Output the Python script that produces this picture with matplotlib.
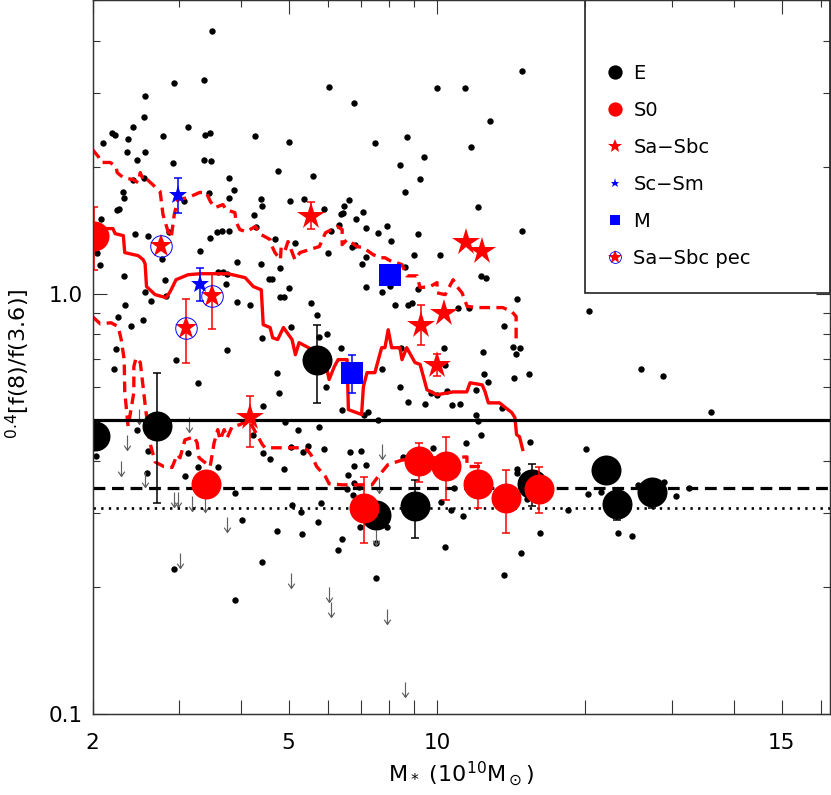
import numpy as np
import matplotlib
matplotlib.use("Agg")
import matplotlib.pyplot as plt
from matplotlib.lines import Line2D
from matplotlib.patches import Rectangle
from matplotlib.path import Path
from matplotlib.ticker import FixedLocator, FixedFormatter, NullFormatter

plt.rcParams['font.family'] = ['DejaVu Sans']
plt.rcParams['mathtext.fontset'] = 'dejavusans'

nan = np.nan

# ---------------- background sample (small black dots) ----------------
dot_mass = [
    3.50, 2.92, 3.37, 6.03, 2.56, 2.54, 3.13, 2.42, 2.19, 2.22,
    2.36, 2.78, 3.39, 3.47, 4.28, 2.10, 5.00, 2.35, 2.56, 2.46,
    3.37, 3.48, 2.91, 4.76, 5.60, 3.78, 2.42, 2.54, 3.87, 2.31,
    2.32, 3.44, 3.78, 3.07, 4.39, 4.41, 5.04, 5.38, 5.91, 2.26,
    2.24, 4.25, 6.38, 2.08, 2.44, 2.59, 2.86, 3.46, 3.57, 3.66,
    3.78, 4.30, 4.69, 5.15, 6.08, 6.32, 2.77, 3.30, 3.93, 4.39,
    4.80, 6.01, 2.04, 2.07, 2.32, 2.81, 3.60, 3.68, 3.75, 3.74,
    4.56, 4.63, 5.00, 2.56, 2.63, 2.82, 2.33, 3.93, 4.17, 4.80,
    4.90, 5.56, 5.72, 2.25, 2.53, 2.39, 5.05, 5.99, 5.77, 4.42,
    6.78, 10.0, 11.4, 14.9, 12.8, 7.49, 8.70, 11.7, 9.42, 8.42,
    9.24, 8.61, 6.62, 6.48, 6.44, 7.08, 6.86, 12.1, 7.18, 7.93,
    7.58, 9.16, 14.9, 8.08, 6.72, 6.82, 7.17, 8.98, 10.13, 7.05,
    8.62, 7.16, 7.74, 8.04, 9.15, 12.3, 12.6, 14.5, 8.21, 8.72,
    8.91, 11.04, 11.6, 13.7, 20.3,
    2.23, 2.21, 3.75, 2.96, 3.28, 4.73, 4.78, 4.43, 5.94, 6.42,
    4.91, 5.22, 5.76, 5.89, 5.47, 5.34, 5.06, 4.59, 4.43, 4.23,
    4.90, 2.46, 2.59, 2.03, 3.13, 3.28, 3.60, 2.58, 3.08, 3.90,
    5.07, 5.81, 5.29, 4.02, 5.73, 4.74, 5.32, 6.42, 6.30, 4.42,
    2.93, 3.89,
    6.38, 7.72, 8.45, 10.34, 10.4, 12.4, 12.46, 12.7, 14.26, 14.76,
    14.47, 14.3, 15.4, 8.42, 8.74, 9.44, 9.71, 10.0, 10.5, 10.72,
    11.15, 11.98, 13.57, 7.25, 7.11, 7.58, 12.0, 12.1, 12.3, 11.44,
    15.44, 20.05, 6.66, 7.00, 6.78, 7.17, 8.52, 9.83, 6.59, 6.77,
    6.57, 6.95, 6.74, 10.85, 10.21, 10.65, 11.29, 14.55, 14.55, 15.2,
    18.45, 20.2, 7.91, 6.98, 7.52, 10.37, 16.18, 14.8, 13.67, 7.52,
    25.9, 28.8, 36.0, 21.5, 30.6, 32.5, 23.3, 24.9, 25.6, 28.85,
]
dot_ratio = [
    4.21, 3.17, 3.23, 3.10, 2.96, 2.64, 2.50, 2.50, 2.41, 2.38,
    2.34, 2.37, 2.39, 2.41, 2.37, 2.29, 2.30, 2.17, 2.18, 2.08,
    2.08, 2.07, 2.05, 1.96, 1.91, 1.89, 1.87, 1.89, 1.77, 1.75,
    1.69, 1.74, 1.69, 1.66, 1.68, 1.62, 1.66, 1.68, 1.59, 1.59,
    1.58, 1.54, 1.55, 1.51, 1.39, 1.375, 1.40, 1.36, 1.40, 1.41,
    1.41, 1.44, 1.35, 1.32, 1.41, 1.455, 1.21, 1.265, 1.19, 1.18,
    1.15, 1.25, 1.25, 1.17, 1.10, 1.076, 1.125, 1.125, 1.116, 1.057,
    1.084, 1.084, 1.03, 1.007, 0.961, 0.988, 0.942, 0.956, 0.942, 0.984,
    0.982, 0.948, 0.89, 0.88, 0.866, 0.839, 0.833, 0.80, 0.787, 0.785,
    2.85, 3.08, 3.08, 3.39, 2.58, 2.29, 2.36, 2.24, 2.12, 2.02,
    1.88, 1.75, 1.67, 1.62, 1.554, 1.566, 1.51, 1.61, 1.437, 1.45,
    1.397, 1.385, 1.407, 1.336, 1.292, 1.303, 1.226, 1.237, 1.239, 1.177,
    1.156, 1.036, 1.011, 1.042, 1.025, 1.10, 1.088, 0.97, 0.940, 0.940,
    0.948, 0.927, 0.927, 0.838, 0.908,
    0.739, 0.662, 0.733, 0.694, 0.613, 0.649, 0.582, 0.542, 0.600, 0.530,
    0.495, 0.473, 0.482, 0.426, 0.435, 0.421, 0.431, 0.404, 0.418, 0.460,
    0.383, 0.475, 0.423, 0.410, 0.417, 0.387, 0.388, 0.375, 0.369, 0.336,
    0.314, 0.318, 0.302, 0.290, 0.286, 0.272, 0.268, 0.261, 0.245, 0.230,
    0.221, 0.187,
    0.743, 0.662, 0.743, 0.743, 0.676, 0.725, 0.644, 0.615, 0.745, 0.741,
    0.717, 0.629, 0.643, 0.600, 0.552, 0.547, 0.581, 0.575, 0.587, 0.545,
    0.547, 0.591, 0.535, 0.522, 0.516, 0.502, 0.515, 0.498, 0.461, 0.441,
    0.443, 0.428, 0.420, 0.422, 0.389, 0.392, 0.409, 0.430, 0.370, 0.354,
    0.344, 0.347, 0.332, 0.345, 0.319, 0.306, 0.296, 0.383, 0.374, 0.325,
    0.306, 0.334, 0.279, 0.279, 0.255, 0.249, 0.269, 0.241, 0.2145, 0.211,
    0.662, 0.636, 0.523, 0.338, 0.330, 0.345, 0.269, 0.265, 0.351, 0.356,
]

# ---------------- upper limits (grey arrows) ----------------
lim_mass = [2.48, 2.35, 3.14, 2.28, 2.55, 2.93, 2.98, 3.19, 3.39, 3.75,
            3.01, 5.06, 6.03, 6.08, 7.75, 7.62, 7.51, 7.91, 8.6]
lim_ratio = [0.532, 0.462, 0.509, 0.401, 0.377, 0.337, 0.337, 0.330, 0.328, 0.295,
             0.241, 0.216, 0.200, 0.185, 0.439, 0.365, 0.274, 0.178, 0.119]

# ---------------- morphological classes ----------------
E_mass = [2.02, 2.70, 5.72, 7.51, 9.03, 15.57, 22.07, 23.2, 27.3]
E_ratio = [0.458, 0.484, 0.697, 0.297, 0.312, 0.353, 0.380, 0.316, 0.337]
E_lo = [nan, 0.318, 0.551, nan, 0.262, 0.313, nan, 0.290, 0.309]
E_hi = [nan, 0.648, 0.844, nan, 0.361, 0.394, nan, 0.340, 0.360]

S0_mass = [2.01, 3.40, 7.12, 9.19, 10.45, 12.1, 13.8, 16.08]
S0_ratio = [1.37, 0.352, 0.310, 0.399, 0.390, 0.353, 0.326, 0.344]
S0_lo = [1.14, nan, 0.255, 0.356, 0.323, 0.310, 0.270, 0.301]
S0_hi = [1.61, nan, 0.366, 0.441, 0.456, 0.395, 0.380, 0.387]

Sa_mass = [5.56, 11.46, 12.33, 9.27, 10.33, 9.98, 4.17]
Sa_ratio = [1.534, 1.326, 1.267, 0.844, 0.900, 0.678, 0.508]
Sa_lo = [1.426, nan, nan, 0.756, nan, 0.636, 0.432]
Sa_hi = [1.654, nan, nan, 0.938, nan, 0.718, 0.571]

Sc_mass = [2.98, 3.31]
Sc_ratio = [1.72, 1.057]
Sc_lo = [1.56, 0.959]
Sc_hi = [1.89, 1.153]

M_mass = [8.04, 6.72]
M_ratio = [1.11, 0.646]
M_lo = [nan, 0.581]
M_hi = [nan, 0.713]

pec_mass = [2.75, 3.49, 3.10]
pec_ratio = [1.297, 0.986, 0.829]
pec_lo = [nan, 0.824, 0.686]
pec_hi = [nan, 1.116, 0.973]

# ---------------- running median and 16/84 percentiles ----------------
med_mass = [2.0, 2.20, 2.223, 2.31, 2.325, 2.476, 2.534, 2.557, 2.574, 2.68,
            2.82, 2.874, 2.955, 3.126, 3.312, 3.766, 4.081, 4.24, 4.40, 4.44,
            4.585, 4.64, 4.75, 4.88, 5.08, 5.16, 5.25, 5.58, 5.77, 5.94,
            6.04, 6.19, 6.30, 6.57, 6.61, 7.03, 7.09, 7.21, 7.48, 7.72,
            7.84, 7.96, 8.09, 8.41, 8.49, 8.68, 9.02, 9.24, 9.54, 10.0,
            10.78, 11.49, 11.67, 12.35, 12.52, 12.71, 13.39, 14.19, 14.39, 14.5,
            14.7, 14.92]
med_ratio = [1.429, 1.429, 1.39, 1.375, 1.253, 1.232, 1.205, 1.179, 1.04, 0.995,
             0.979, 1.011, 1.08, 1.11, 1.116, 1.116, 1.092, 1.04, 1.022, 0.844,
             0.831, 0.786, 0.778, 0.831, 0.778, 0.716, 0.765, 0.736, 0.724, 0.686,
             0.625, 0.671, 0.697, 0.697, 0.53, 0.516, 0.601, 0.649, 0.649, 0.744,
             0.744, 0.821, 0.744, 0.744, 0.697, 0.744, 0.686, 0.679, 0.591, 0.575,
             0.584, 0.584, 0.614, 0.607, 0.584, 0.55, 0.55, 0.521, 0.507, 0.462,
             0.457, 0.426]

p84_mass = [2.0, 2.054, 2.083, 2.172, 2.233, 2.244, 2.31, 2.417, 2.476, 2.50,
            2.534, 2.557, 2.65, 2.743, 2.78, 2.847, 2.889, 2.93, 2.98, 3.126,
            3.30, 3.40, 3.47, 3.545, 3.68, 3.73, 3.89, 3.91, 3.98, 4.10,
            4.28, 4.40, 4.585, 4.61, 4.69, 4.81, 4.83, 4.92, 4.985, 5.15,
            5.27, 5.77, 5.94, 6.28, 6.42, 6.42, 6.57, 6.88, 7.08, 7.42,
            7.66, 7.84, 8.10, 8.29, 8.49, 8.69, 9.11, 9.24, 9.68, 10.0,
            10.0, 10.39, 10.78, 10.98, 11.24, 11.51, 12.05, 13.6, 14.19, 14.47,
            14.47]
p84_ratio = [2.203, 2.122, 2.053, 2.053, 2.007, 1.942, 1.889, 1.869, 1.838, 1.942,
             1.869, 1.889, 1.818, 1.75, 1.543, 1.405, 1.36, 1.543, 1.675, 1.693,
             1.742, 1.742, 1.657, 1.603, 1.63, 1.585, 1.56, 1.484, 1.421, 1.405,
             1.445, 1.382, 1.346, 1.309, 1.253, 1.205, 1.294, 1.27, 1.331, 1.205,
             1.253, 1.295, 1.397, 1.444, 1.421, 1.309, 1.346, 1.295, 1.288, 1.239,
             1.218, 1.218, 1.192, 1.185, 1.173, 1.103, 1.103, 1.034, 1.04, 1.063,
             1.005, 0.995, 1.08, 1.04, 1.005, 0.933, 0.927, 0.927, 0.906, 0.883,
             0.778]

p16_mass = [2.0, 2.074, 2.181, 2.255, 2.287, 2.319, 2.325, 2.362, 2.426, 2.426,
            2.452, 2.50, 2.54, 2.56, 2.615, 2.68, 2.79, 2.90, 2.97, 3.01,
            3.08, 3.214, 3.26, 3.29, 3.465, 3.53, 3.59, 3.63, 3.70, 3.75,
            3.84, 3.98, 4.15, 4.42, 4.48, 5.27, 5.44, 5.55, 5.70, 5.94,
            6.04, 6.42, 7.38, 7.59, 7.95, 8.49, 9.24, 10.44, 11.5, 11.5,
            12.22]
p16_ratio = [0.882, 0.848, 0.853, 0.835, 0.778, 0.697, 0.585, 0.483, 0.582, 0.671,
             0.704, 0.686, 0.585, 0.539, 0.442, 0.398, 0.388, 0.386, 0.414, 0.407,
             0.449, 0.457, 0.442, 0.407, 0.388, 0.442, 0.475, 0.449, 0.475, 0.454,
             0.483, 0.488, 0.501, 0.438, 0.43, 0.43, 0.426, 0.414, 0.388, 0.367,
             0.353, 0.351, 0.351, 0.367, 0.392, 0.402, 0.407, 0.407, 0.409, 0.388,
             0.388]

# reference levels
ref_solid = 0.50
ref_dashed = 0.345
ref_dotted = 0.31

# axis ticks
x_major = [2, 5, 10, 50]
x_major_labels = ['2', '5', '10', '15']
x_minor = [3, 4, 6, 7, 8, 9, 20, 30, 40, 60]
y_major = [0.1, 1.0]
y_major_labels = ['0.1', '1.0']
y_minor = [0.2, 0.3, 0.4, 0.5, 0.6, 0.7, 0.8, 0.9, 2, 3, 4, 5]

legend_labels = ['E', 'S0', 'Sa\u2212Sbc', 'Sc\u2212Sm', 'M', 'Sa\u2212Sbc pec']

RED = '#ff0000'
BLUE = '#0000ff'
GREY = '#606060'
AXC = '#333333'

# ---------------- figure ----------------
fig = plt.figure(figsize=(8.31, 7.95), dpi=100)
ax = fig.add_axes([92.5 / 831, 81 / 795, 737.5 / 831, 714 / 795])
ax.set_xscale('log')
ax.set_yscale('log')
xlim = (2.0, 62.7)
ax.set_xlim(*xlim)
ax.set_ylim(0.1, 5.0)

axt = ax.twiny()
axt.set_xscale('log')
axt.set_xlim(*xlim)

# background dots
ax.plot(dot_mass, dot_ratio, ls='none', marker='o', ms=4.6, mfc='k', mec='k',
        mew=0, zorder=2)

# upper-limit arrows (marker anchored at the limit value)
arrow_path = Path([(0, 0), (0, -1), (-0.22, -0.68), (0, -1), (0.22, -0.68)],
                  [Path.MOVETO, Path.LINETO, Path.MOVETO, Path.LINETO, Path.LINETO])
ax.plot(lim_mass, lim_ratio, ls='none', marker=arrow_path, ms=21.5, mfc='none',
        mec=GREY, mew=0.85, zorder=2)

# running statistics
ax.plot(p84_mass, p84_ratio, color=RED, lw=2.4, dashes=(3.2, 1.9), zorder=3)
ax.plot(p16_mass, p16_ratio, color=RED, lw=2.4, dashes=(3.2, 1.9), zorder=3)
ax.plot(med_mass, med_ratio, color=RED, lw=2.4, zorder=3)

# reference levels
ax.axhline(ref_solid, color='k', lw=2.3, zorder=3)
ax.axhline(ref_dashed, color='k', lw=2.3, dashes=(3.7, 2.1), zorder=3)
ax.axhline(ref_dotted, color='k', lw=1.9, dashes=(0.9, 2.0), zorder=3)


def draw_group(mass, ratio, lo, hi, marker, ms, fc, ec, ecol, z, mew=0.0):
    m = np.asarray(mass, float)
    r = np.asarray(ratio, float)
    lo = np.asarray(lo, float)
    hi = np.asarray(hi, float)
    ok = ~np.isnan(lo)
    if ok.any():
        ax.errorbar(m[ok], r[ok], yerr=[r[ok] - lo[ok], hi[ok] - r[ok]], fmt='none',
                    ecolor=ecol, elinewidth=1.1, capsize=3.0, capthick=1.1, zorder=z)
    ax.plot(m, r, ls='none', marker=marker, ms=ms, mfc=fc, mec=ec, mew=mew,
            zorder=z + 0.1)


draw_group(E_mass, E_ratio, E_lo, E_hi, 'o', 21.6, 'k', 'k', 'k', 5)
draw_group(S0_mass, S0_ratio, S0_lo, S0_hi, 'o', 21.6, RED, RED, RED, 6)
draw_group(Sa_mass, Sa_ratio, Sa_lo, Sa_hi, '*', 20.5, RED, RED, RED, 7)
draw_group(Sc_mass, Sc_ratio, Sc_lo, Sc_hi, '*', 14.0, BLUE, BLUE, BLUE, 7)
draw_group(M_mass, M_ratio, M_lo, M_hi, 's', 15.8, BLUE, BLUE, BLUE, 7)
draw_group(pec_mass, pec_ratio, pec_lo, pec_hi, '*', 17.0, RED, RED, RED, 8)
ax.plot(pec_mass, pec_ratio, ls='none', marker='o', ms=15.5, mfc='none',
        mec=BLUE, mew=0.7, zorder=8.3)

# ---------------- axes styling ----------------
for a in (ax, axt):
    for s in a.spines.values():
        s.set_color(AXC)
        s.set_linewidth(0.9)

ax.xaxis.set_major_locator(FixedLocator(x_major))
ax.xaxis.set_major_formatter(FixedFormatter(x_major_labels))
ax.xaxis.set_minor_locator(FixedLocator(x_minor))
ax.xaxis.set_minor_formatter(NullFormatter())
ax.yaxis.set_major_locator(FixedLocator(y_major))
ax.yaxis.set_major_formatter(FixedFormatter(y_major_labels))
ax.yaxis.set_minor_locator(FixedLocator(y_minor))
ax.yaxis.set_minor_formatter(NullFormatter())

ax.tick_params(axis='x', which='both', direction='in', length=10, width=0.8,
               color=AXC, top=False, bottom=True, labelsize=15.5, pad=13.5)
ax.tick_params(axis='y', which='major', direction='in', length=10, width=0.8,
               color=AXC, left=True, right=True, labelsize=15.5, pad=6.8)
ax.tick_params(axis='y', which='minor', direction='in', length=5, width=0.8,
               color=AXC, left=True, right=True)

axt.xaxis.set_major_locator(FixedLocator(x_major))
axt.xaxis.set_minor_locator(FixedLocator(x_minor))
axt.xaxis.set_major_formatter(NullFormatter())
axt.xaxis.set_minor_formatter(NullFormatter())
axt.tick_params(axis='x', which='major', direction='in', length=10, width=0.8,
                color=AXC, top=True, bottom=False, labeltop=False)
axt.tick_params(axis='x', which='minor', direction='in', length=5, width=0.8,
                color=AXC, top=True, bottom=False, labeltop=False)

ax.set_xlabel(r'M$_*$ (10$^{10}$M$_\odot$)', fontsize=16, labelpad=5)
ax.set_ylabel(r'${}^{0.4}$[f(8)/f(3.6)]', fontsize=16)
ax.yaxis.set_label_coords(-0.082, 0.49)

# ---------------- legend ----------------
box = Rectangle((0.6678, 0.5892), 1 - 0.6678, 1 - 0.5892, transform=ax.transAxes,
                fill=False, ec='#222222', lw=1.2, zorder=9)
ax.add_patch(box)

h_E = Line2D([], [], ls='none', marker='o', ms=10.3, mfc='k', mec='k', mew=0)
h_S0 = Line2D([], [], ls='none', marker='o', ms=10.3, mfc=RED, mec=RED, mew=0)
h_Sa = Line2D([], [], ls='none', marker='*', ms=10.0, mfc=RED, mec=RED, mew=0)
h_Sc = Line2D([], [], ls='none', marker='*', ms=6.5, mfc=BLUE, mec=BLUE, mew=0)
h_M = Line2D([], [], ls='none', marker='s', ms=7.5, mfc=BLUE, mec=BLUE, mew=0)
h_pec = (Line2D([], [], ls='none', marker='*', ms=10.0, mfc=RED, mec=RED, mew=0),
         Line2D([], [], ls='none', marker='o', ms=8.5, mfc='none', mec=BLUE, mew=0.6))
leg = ax.legend([h_E, h_S0, h_Sa, h_Sc, h_M, h_pec], legend_labels,
                loc='upper left', bbox_to_anchor=(0.6953, 0.9102), borderaxespad=0,
                borderpad=0, frameon=False, fontsize=14, handlelength=1.0,
                handletextpad=0.44, labelspacing=0.92)
leg.set_zorder(10)

fig.savefig('out.png', dpi=100)
